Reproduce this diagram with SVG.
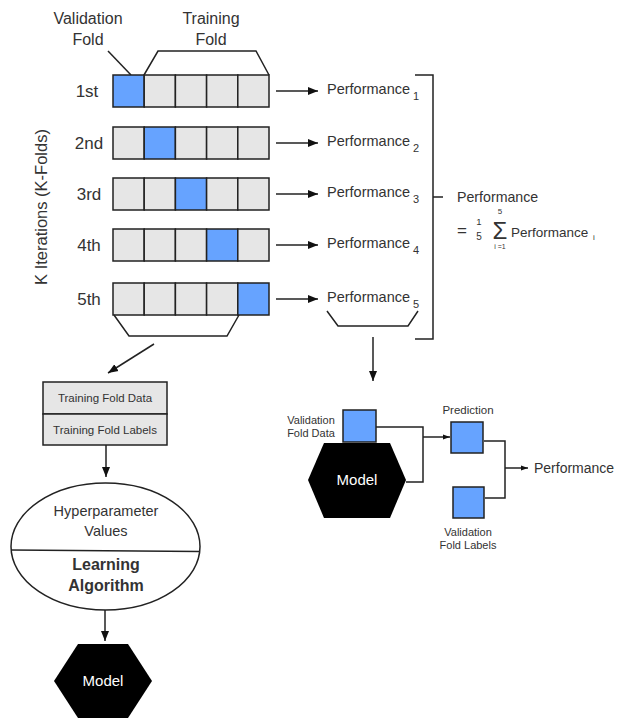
<svg xmlns="http://www.w3.org/2000/svg" width="617" height="719" viewBox="0 0 617 719">
<defs>
<style>
text{font-family:"Liberation Sans",Arial,sans-serif;fill:#333}
.cell{fill:#e6e6e6;stroke:#222;stroke-width:1.5}
.val{fill:#66a3ff;stroke:#222;stroke-width:1.5}
.ln{fill:none;stroke:#222;stroke-width:1.5}
.lbl{font-size:16px;text-anchor:middle}
.perf{font-size:14.5px}
.sub{font-size:11px}
.sm{font-size:11.5px;text-anchor:middle}
.hex{fill:#000}
.mt{fill:#fff;font-size:15px;text-anchor:middle}
</style>
<marker id="ah" viewBox="0 0 10 10" refX="10" refY="5" markerWidth="10" markerHeight="10" markerUnits="userSpaceOnUse" orient="auto">
<path d="M0,1 L10,5 L0,9 Z" fill="#111"/>
</marker>
<marker id="ahs" viewBox="0 0 10 10" refX="10" refY="5" markerWidth="7" markerHeight="7" markerUnits="userSpaceOnUse" orient="auto">
<path d="M0,1.5 L10,5 L0,8.5 Z" fill="#111"/>
</marker>
</defs>

<g id="header">
<text class="lbl" x="88" y="24">Validation</text>
<text class="lbl" x="88" y="45">Fold</text>
<text class="lbl" x="211" y="24">Training</text>
<text class="lbl" x="211" y="45">Fold</text>
<path class="ln" d="M108,51 L131,75"/>
<path class="ln" d="M144,75 L158,51 L256,51 L269,75"/>
</g>

<text id="k-label" x="47" y="207" font-size="16.5" text-anchor="middle" transform="rotate(-90 47 207)">K Iterations (K-Folds)</text>

<g id="row1">
<text x="87" y="97" font-size="17" text-anchor="middle">1st</text>
<rect class="val" x="113" y="75" width="31.2" height="32"/>
<rect class="cell" x="144.2" y="75" width="31.2" height="32"/>
<rect class="cell" x="175.4" y="75" width="31.2" height="32"/>
<rect class="cell" x="206.6" y="75" width="31.2" height="32"/>
<rect class="cell" x="237.8" y="75" width="31.2" height="32"/>
</g>
<g id="row2">
<text x="89" y="149" font-size="17" text-anchor="middle">2nd</text>
<rect class="cell" x="113" y="127" width="31.2" height="32"/>
<rect class="val" x="144.2" y="127" width="31.2" height="32"/>
<rect class="cell" x="175.4" y="127" width="31.2" height="32"/>
<rect class="cell" x="206.6" y="127" width="31.2" height="32"/>
<rect class="cell" x="237.8" y="127" width="31.2" height="32"/>
</g>
<g id="row3">
<text x="89" y="200" font-size="17" text-anchor="middle">3rd</text>
<rect class="cell" x="113" y="178" width="31.2" height="32"/>
<rect class="cell" x="144.2" y="178" width="31.2" height="32"/>
<rect class="val" x="175.4" y="178" width="31.2" height="32"/>
<rect class="cell" x="206.6" y="178" width="31.2" height="32"/>
<rect class="cell" x="237.8" y="178" width="31.2" height="32"/>
</g>
<g id="row4">
<text x="89" y="251" font-size="17" text-anchor="middle">4th</text>
<rect class="cell" x="113" y="229" width="31.2" height="32"/>
<rect class="cell" x="144.2" y="229" width="31.2" height="32"/>
<rect class="cell" x="175.4" y="229" width="31.2" height="32"/>
<rect class="val" x="206.6" y="229" width="31.2" height="32"/>
<rect class="cell" x="237.8" y="229" width="31.2" height="32"/>
</g>
<g id="row5">
<text x="89" y="305" font-size="17" text-anchor="middle">5th</text>
<rect class="cell" x="113" y="283" width="31.2" height="32"/>
<rect class="cell" x="144.2" y="283" width="31.2" height="32"/>
<rect class="cell" x="175.4" y="283" width="31.2" height="32"/>
<rect class="cell" x="206.6" y="283" width="31.2" height="32"/>
<rect class="val" x="237.8" y="283" width="31.2" height="32"/>
</g>

<g id="performances">
<text class="perf" x="327" y="94">Performance</text><text class="sub" x="413" y="100">1</text>
<text class="perf" x="327" y="146">Performance</text><text class="sub" x="413" y="152">2</text>
<text class="perf" x="327" y="197">Performance</text><text class="sub" x="413" y="203">3</text>
<text class="perf" x="327" y="248">Performance</text><text class="sub" x="413" y="254">4</text>
<text class="perf" x="327" y="302">Performance</text><text class="sub" x="413" y="308">5</text>
</g>

<g id="average">
<text x="457" y="202" font-size="14.2">Performance</text>
<text x="457" y="236" font-size="17">=</text>
<text x="479" y="225" font-size="9.5" text-anchor="middle">1</text>
<text x="479" y="240" font-size="10" text-anchor="middle">5</text>
<text x="500" y="239" font-size="24" text-anchor="middle">Σ</text>
<text x="500" y="214" font-size="8" text-anchor="middle">5</text>
<text x="500" y="249" font-size="7" text-anchor="middle">i =1</text>
<text x="511" y="237" font-size="13.5">Performance</text>
<text x="593" y="240" font-size="8">i</text>
</g>

<g id="training-data">
<rect class="cell" x="43" y="382" width="124" height="32"/>
<rect class="cell" x="43" y="414" width="124" height="31"/>
<text class="sm" x="105" y="402">Training Fold Data</text>
<text class="sm" x="105" y="434">Training Fold Labels</text>
</g>

<g id="learning">
<ellipse cx="105.5" cy="546.5" rx="94.5" ry="63.5" fill="#fff" stroke="#222" stroke-width="1.5"/>
<line x1="11" y1="550" x2="200" y2="551.5" stroke="#222" stroke-width="1.5"/>
<text x="106" y="516" font-size="14.5" text-anchor="middle" fill="#444">Hyperparameter</text>
<text x="106" y="536" font-size="14.5" text-anchor="middle" fill="#444">Values</text>
<text x="106" y="570" font-size="16" font-weight="bold" text-anchor="middle" fill="#111">Learning</text>
<text x="106" y="591" font-size="16" font-weight="bold" text-anchor="middle" fill="#111">Algorithm</text>
</g>

<g id="model-left">
<polygon class="hex" points="78,644 128,644 152,681 128,718 78,718 54,681"/>
<text class="mt" x="103" y="686">Model</text>
</g>

<g id="validation">
<text x="311" y="424" font-size="11" text-anchor="middle">Validation</text>
<text x="311" y="437" font-size="11" text-anchor="middle">Fold Data</text>
<rect class="val" x="343" y="410" width="33" height="32"/>
</g>

<g id="model-right">
<polygon class="hex" points="324,443 390,443 406,480 390,518 324,518 308,480"/>
<text class="mt" x="357" y="485">Model</text>
</g>

<g id="prediction">
<text class="sm" x="468" y="414">Prediction</text>
<rect class="val" x="451" y="422" width="32" height="31"/>
</g>

<g id="val-labels">
<rect class="val" x="453" y="487" width="31" height="31"/>
<text x="468" y="536" font-size="11" text-anchor="middle">Validation</text>
<text x="468" y="549" font-size="11" text-anchor="middle">Fold Labels</text>
</g>

<text id="final-perf" x="534" y="473" font-size="14">Performance</text>

<g id="connectors">
<path class="ln" d="M276,91 H318" marker-end="url(#ah)"/>
<path class="ln" d="M276,143 H318" marker-end="url(#ah)"/>
<path class="ln" d="M276,194 H318" marker-end="url(#ah)"/>
<path class="ln" d="M276,245 H318" marker-end="url(#ah)"/>
<path class="ln" d="M276,299 H318" marker-end="url(#ah)"/>
<path class="ln" d="M114,315 L129,336 L227,336 L239,315"/>
<path class="ln" d="M327,311 L338,326 L408,326 L418,311"/>
<path class="ln" d="M415,75 H433 V339 H415 M433,197 H443"/>
<path class="ln" d="M154,344 L108,373" marker-end="url(#ah)"/>
<path class="ln" d="M106,445 V477" marker-end="url(#ah)"/>
<path class="ln" d="M105,610 V641" marker-end="url(#ah)"/>
<path class="ln" d="M373,337 V381" marker-end="url(#ah)"/>
<path class="ln" d="M376,427 H423 V482 H406"/>
<path class="ln" d="M423,437 H450" marker-end="url(#ahs)"/>
<path class="ln" d="M484,441 H505 V498 H485"/>
<path class="ln" d="M505,468 H528" marker-end="url(#ahs)"/>
</g>
</svg>
